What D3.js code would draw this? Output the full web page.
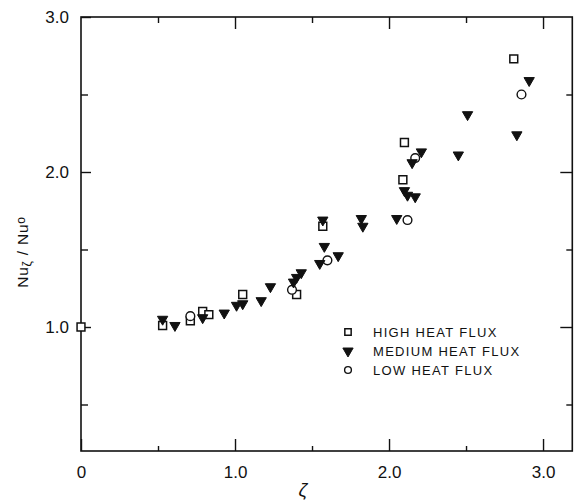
<!DOCTYPE html>
<html>
<head>
<meta charset="utf-8">
<script src="https://cdn.jsdelivr.net/npm/d3@7"></script>
<style>
  html, body { margin: 0; padding: 0; background: #fff; }
  svg { display: block; }
  text { font-family: "Liberation Sans", Arial, sans-serif; fill: #111; }
</style>
</head>
<body>
<svg id="chart" width="575" height="501"></svg>
<script>
// ---- data (ζ, Nuζ/Nuo) ----
const highX = [0.00, 0.53, 0.71, 0.79, 0.83, 1.05, 1.40, 1.57, 2.09, 2.10, 2.81];
const highY = [1.00, 1.01, 1.04, 1.10, 1.08, 1.21, 1.21, 1.65, 1.95, 2.19, 2.73];

const medX = [0.53, 0.61, 0.79, 0.93, 1.01, 1.05, 1.17, 1.23, 1.38, 1.40, 1.43, 1.55, 1.58, 1.67, 1.57, 1.82, 1.83, 2.05, 2.10, 2.12, 2.17, 2.15, 2.21, 2.45, 2.51, 2.83, 2.91];
const medY = [1.05, 1.01, 1.06, 1.09, 1.14, 1.15, 1.17, 1.26, 1.29, 1.32, 1.35, 1.41, 1.52, 1.46, 1.69, 1.70, 1.65, 1.70, 1.88, 1.85, 1.84, 2.06, 2.13, 2.11, 2.37, 2.24, 2.59];

const lowX = [0.71, 1.37, 1.60, 2.12, 2.17, 2.86];
const lowY = [1.07, 1.24, 1.43, 1.69, 2.09, 2.50];

const xMajorTicks = [0, 1, 2, 3];
const xMajorLabels = ["0", "1.0", "2.0", "3.0"];
const xMinorTicks = [0.5, 1.5, 2.5];
const yMajorTicks = [1, 2, 3];
const yMajorLabels = ["1.0", "2.0", "3.0"];
const yMinorTicks = [0.5, 1.5, 2.5];

const legendLabels = ["HIGH HEAT FLUX", "MEDIUM HEAT FLUX", "LOW HEAT FLUX"];

// ---- scales ----
const x = d3.scaleLinear().domain([0, 3.19]).range([81, 572.3]);
const y = d3.scaleLinear().domain([0.2, 3.0]).range([451, 17]);

const svg = d3.select("#chart");
const ink = "#111";

// frame
svg.append("rect")
  .attr("x", x(0)).attr("y", y(3.0))
  .attr("width", x(3.19) - x(0)).attr("height", y(0.2) - y(3.0))
  .attr("fill", "none").attr("stroke", ink).attr("stroke-width", 1.6);

function styleAxis(g) {
  g.select(".domain").remove();
  g.selectAll("line").attr("stroke", ink).attr("stroke-width", 1.4);
  g.selectAll("text").attr("font-size", 17).attr("fill", ink);
}

// bottom axis
svg.append("g").attr("transform", `translate(0,${y(0.2)})`)
  .call(d3.axisBottom(x).tickValues(xMajorTicks).tickSizeInner(-12).tickSizeOuter(0)
        .tickPadding(15).tickFormat((d, i) => xMajorLabels[i]))
  .call(styleAxis);
svg.append("g").attr("transform", `translate(0,${y(0.2)})`)
  .call(d3.axisBottom(x).tickValues(xMinorTicks).tickSizeInner(-5).tickSizeOuter(0).tickFormat(""))
  .call(styleAxis);
// top axis
svg.append("g").attr("transform", `translate(0,${y(3.0)})`)
  .call(d3.axisTop(x).tickValues(xMajorTicks.filter(d => d > 0)).tickSizeInner(-12).tickSizeOuter(0).tickFormat(""))
  .call(styleAxis);
svg.append("g").attr("transform", `translate(0,${y(3.0)})`)
  .call(d3.axisTop(x).tickValues(xMinorTicks).tickSizeInner(-6).tickSizeOuter(0).tickFormat(""))
  .call(styleAxis);
// left axis
svg.append("g").attr("transform", `translate(${x(0)},0)`)
  .call(d3.axisLeft(y).tickValues(yMajorTicks).tickSizeInner(-10).tickSizeOuter(0)
        .tickPadding(12).tickFormat((d, i) => yMajorLabels[i]))
  .call(styleAxis);
svg.append("g").attr("transform", `translate(${x(0)},0)`)
  .call(d3.axisLeft(y).tickValues(yMinorTicks).tickSizeInner(-7).tickSizeOuter(0).tickFormat(""))
  .call(styleAxis);
// right axis
svg.append("g").attr("transform", `translate(${x(3.19)},0)`)
  .call(d3.axisRight(y).tickValues(yMajorTicks.filter(d => d < 3)).tickSizeInner(-12).tickSizeOuter(0).tickFormat(""))
  .call(styleAxis);
svg.append("g").attr("transform", `translate(${x(3.19)},0)`)
  .call(d3.axisRight(y).tickValues(yMinorTicks).tickSizeInner(-6).tickSizeOuter(0).tickFormat(""))
  .call(styleAxis);

// axis titles
svg.append("text").attr("x", 303).attr("y", 496)
  .attr("text-anchor", "middle").attr("font-size", 19).attr("font-style", "italic").text("ζ");

const yt = svg.append("text")
  .attr("transform", "translate(28,252) rotate(-90)")
  .attr("text-anchor", "middle").attr("font-size", 15.5).attr("letter-spacing", 0.8);
yt.append("tspan").text("Nu");
yt.append("tspan").attr("font-size", 12).attr("dy", 3).text("ζ");
yt.append("tspan").attr("dy", -3).text(" / Nu");
yt.append("tspan").attr("font-size", 12).attr("dy", -3).text("o");

// markers
const sqSym = d3.symbol().type(d3.symbolSquare).size(62);
const triSym = d3.symbol().type(d3.symbolTriangle).size(46);
const cirSym = d3.symbol().type(d3.symbolCircle).size(60);

function drawSquare(sel) {
  sel.attr("d", sqSym()).attr("fill", "#fff").attr("stroke", ink).attr("stroke-width", 1.5);
}
function drawTri(sel) {
  sel.attr("d", triSym()).attr("fill", ink).attr("stroke", ink).attr("stroke-width", 1);
}
function drawCircle(sel) {
  sel.attr("d", cirSym()).attr("fill", "#fff").attr("stroke", ink).attr("stroke-width", 1.4);
}

svg.append("g").selectAll("path").data(highX.map((v, i) => [v, highY[i]])).join("path")
  .attr("transform", d => `translate(${x(d[0])},${y(d[1])})`).call(drawSquare);
svg.append("g").selectAll("path").data(lowX.map((v, i) => [v, lowY[i]])).join("path")
  .attr("transform", d => `translate(${x(d[0])},${y(d[1])})`).call(drawCircle);
svg.append("g").selectAll("path").data(medX.map((v, i) => [v, medY[i]])).join("path")
  .attr("transform", d => `translate(${x(d[0])},${y(d[1])}) rotate(180)`).call(drawTri);

// legend
const leg = svg.append("g").attr("transform", "translate(348,332)");
const legSyms = [drawSquare, drawTri, drawCircle];
legendLabels.forEach((lab, i) => {
  const p = leg.append("path").attr("transform", `translate(0,${i * 19})${i === 1 ? " rotate(180)" : ""}`);
  p.call(legSyms[i]);
  if (i === 0) p.attr("d", d3.symbol().type(d3.symbolSquare).size(40)());
  if (i === 2) p.attr("d", d3.symbol().type(d3.symbolCircle).size(36)());
  leg.append("text").attr("x", 25).attr("y", i * 19 + 5)
    .attr("font-size", 13).attr("letter-spacing", 1.3).text(lab);
});
</script>
</body>
</html>
